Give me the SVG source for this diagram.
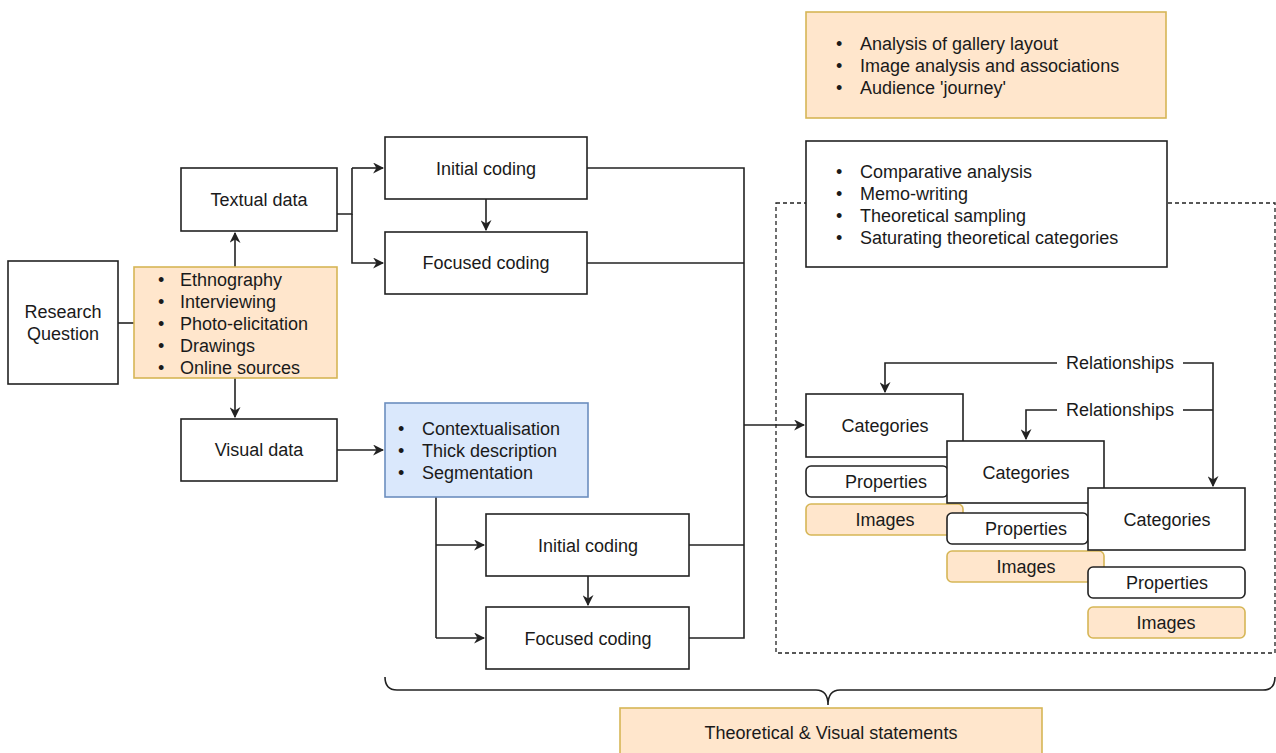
<svg xmlns="http://www.w3.org/2000/svg" width="1276" height="753" viewBox="0 0 1276 753">
<style>
text{font-family:"Liberation Sans",Arial,Helvetica,sans-serif;font-size:18px;fill:#1a1a1a}
.c{text-anchor:middle}
.box{fill:#fff;stroke:#222;stroke-width:1.6}
.org{fill:#ffe6cc;stroke:#d6b656;stroke-width:1.6}
.blue{fill:#dae8fc;stroke:#6c8ebf;stroke-width:1.6}
.ln{fill:none;stroke:#222;stroke-width:1.6}
.arr{fill:none;stroke:#222;stroke-width:1.6;marker-end:url(#ah)}
.dash{fill:none;stroke:#222;stroke-width:1.3;stroke-dasharray:4 3}
</style>
<defs>
<marker id="ah" viewBox="0 0 10 10" refX="9" refY="5" markerWidth="11" markerHeight="11" markerUnits="userSpaceOnUse" orient="auto">
<path d="M0,0 L10,5 L0,10 L3,5 Z" fill="#222"/>
</marker>
</defs>
<rect width="1276" height="753" fill="#fff"/>

<g id="container">
<rect class="dash" x="776" y="203" width="499" height="450"/>
</g>

<g id="connectors">
<path class="ln" d="M118 323 H134"/>
<path class="arr" d="M235 267 V233"/>
<path class="arr" d="M235 378 V417"/>
<path class="ln" d="M337 214 H352 V168"/>
<path class="arr" d="M352 168 H383"/>
<path class="arr" d="M352 214 V263 H383"/>
<path class="arr" d="M486 199 V230"/>
<path class="ln" d="M587 168 H744 V638 H689"/>
<path class="ln" d="M587 263 H744"/>
<path class="ln" d="M689 545 H744"/>
<path class="arr" d="M744 425 H804"/>
<path class="arr" d="M337 450 H383"/>
<path class="ln" d="M436 497 V638"/>
<path class="arr" d="M436 545 H484"/>
<path class="arr" d="M436 638 H484"/>
<path class="arr" d="M588 576 V605"/>
<path class="arr" d="M1057 363 H885 V392"/>
<path class="arr" d="M1057 410 H1026 V439"/>
<path class="arr" d="M1183 363 H1213 V486"/>
<path class="ln" d="M1183 410 H1213"/>
<path class="ln" d="M385 677 Q385 690 397 690 L816 690 Q828 690 828 705 Q828 690 840 690 L1263 690 Q1275 690 1275 677"/>
</g>

<g id="research-question">
<rect class="box" x="8" y="261" width="110" height="123"/>
<text class="c" x="63" y="318">Research</text>
<text class="c" x="63" y="340">Question</text>
</g>

<g id="methods">
<rect class="org" x="134" y="267" width="203" height="111"/>
<text x="158" y="286">•</text><text x="180" y="286">Ethnography</text>
<text x="158" y="308">•</text><text x="180" y="308">Interviewing</text>
<text x="158" y="330">•</text><text x="180" y="330">Photo-elicitation</text>
<text x="158" y="352">•</text><text x="180" y="352">Drawings</text>
<text x="158" y="374">•</text><text x="180" y="374">Online sources</text>
</g>

<g id="textual-data">
<rect class="box" x="181" y="168" width="156" height="63"/>
<text class="c" x="259" y="206">Textual data</text>
</g>

<g id="visual-data">
<rect class="box" x="181" y="419" width="156" height="62"/>
<text class="c" x="259" y="456">Visual data</text>
</g>

<g id="initial-coding-1">
<rect class="box" x="385" y="137" width="202" height="62"/>
<text class="c" x="486" y="175">Initial coding</text>
</g>

<g id="focused-coding-1">
<rect class="box" x="385" y="232" width="202" height="62"/>
<text class="c" x="486" y="269">Focused coding</text>
</g>

<g id="visual-methods">
<rect class="blue" x="385" y="403" width="203" height="94"/>
<text x="398" y="435">•</text><text x="422" y="435">Contextualisation</text>
<text x="398" y="457">•</text><text x="422" y="457">Thick description</text>
<text x="398" y="479">•</text><text x="422" y="479">Segmentation</text>
</g>

<g id="initial-coding-2">
<rect class="box" x="486" y="514" width="203" height="62"/>
<text class="c" x="588" y="552">Initial coding</text>
</g>

<g id="focused-coding-2">
<rect class="box" x="486" y="607" width="203" height="62"/>
<text class="c" x="588" y="645">Focused coding</text>
</g>

<g id="gallery-analysis">
<rect class="org" x="806" y="12" width="360" height="106"/>
<text x="836" y="50">•</text><text x="860" y="50">Analysis of gallery layout</text>
<text x="836" y="72">•</text><text x="860" y="72">Image analysis and associations</text>
<text x="836" y="94">•</text><text x="860" y="94">Audience 'journey'</text>
</g>

<g id="comparative">
<rect class="box" x="806" y="141" width="361" height="126"/>
<text x="836" y="178">•</text><text x="860" y="178">Comparative analysis</text>
<text x="836" y="200">•</text><text x="860" y="200">Memo-writing</text>
<text x="836" y="222">•</text><text x="860" y="222">Theoretical sampling</text>
<text x="836" y="244">•</text><text x="860" y="244">Saturating theoretical categories</text>
</g>

<g id="relationships">
<text class="c" x="1120" y="369">Relationships</text>
<text class="c" x="1120" y="416">Relationships</text>
</g>

<g id="category-1">
<rect class="box" x="806" y="394" width="157" height="63"/>
<text class="c" x="885" y="432">Categories</text>
<rect class="box" x="806" y="466" width="142" height="31" rx="5"/>
<text class="c" x="886" y="488">Properties</text>
<rect class="org" x="806" y="504" width="157" height="31" rx="5"/>
<text class="c" x="885" y="526">Images</text>
</g>

<g id="category-2">
<rect class="box" x="947" y="441" width="157" height="62"/>
<text class="c" x="1026" y="479">Categories</text>
<rect class="box" x="947" y="513" width="141" height="31" rx="5"/>
<text class="c" x="1026" y="535">Properties</text>
<rect class="org" x="947" y="551" width="157" height="31" rx="5"/>
<text class="c" x="1026" y="573">Images</text>
</g>

<g id="category-3">
<rect class="box" x="1088" y="488" width="157" height="62"/>
<text class="c" x="1167" y="526">Categories</text>
<rect class="box" x="1088" y="567" width="157" height="31" rx="5"/>
<text class="c" x="1167" y="589">Properties</text>
<rect class="org" x="1088" y="607" width="157" height="31" rx="5"/>
<text class="c" x="1166" y="629">Images</text>
</g>

<g id="statements">
<rect class="org" x="620" y="708" width="422" height="50"/>
<text class="c" x="831" y="739">Theoretical &amp; Visual statements</text>
</g>
</svg>
